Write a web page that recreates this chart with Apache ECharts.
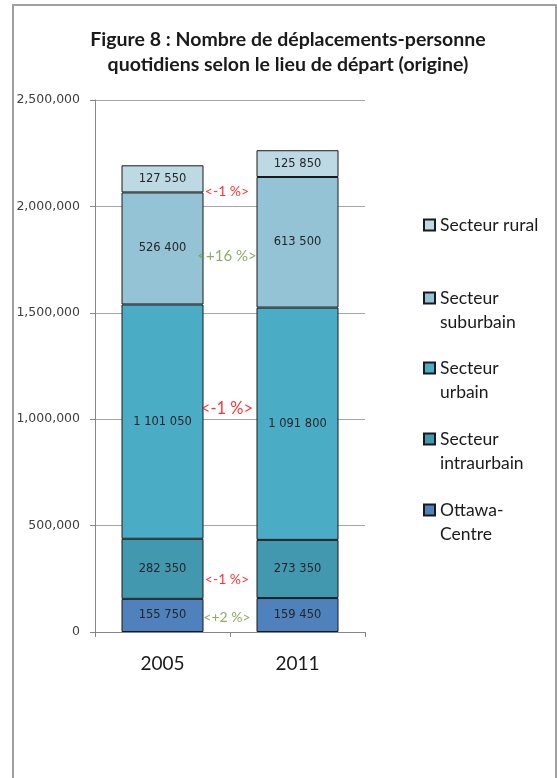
<!DOCTYPE html>
<html>
<head>
<meta charset="utf-8">
<script src="https://cdn.jsdelivr.net/npm/echarts@6/dist/echarts.min.js"></script>
<style>
  html, body { margin: 0; padding: 0; background: #fff; }
  #chart { width: 557px; height: 778px; }
</style>
</head>
<body>
<div id="chart"></div>
<script>
// Years on the category axis
const years = ['2005', '2011'];

// Series, stacked from the bottom up
const seriesNames = ['Ottawa-Centre', 'Secteur intraurbain', 'Secteur urbain', 'Secteur suburbain', 'Secteur rural'];
const ottawaCentre = [155750, 159450];
const intraurbain = [282350, 273350];
const urbain = [1101050, 1091800];
const suburbain = [526400, 613500];
const rural = [127550, 125850];

// Legend text, split over two lines where it wraps
const legendText = {
  'Secteur rural': ['Secteur rural'],
  'Secteur suburbain': ['Secteur', 'suburbain'],
  'Secteur urbain': ['Secteur', 'urbain'],
  'Secteur intraurbain': ['Secteur', 'intraurbain'],
  'Ottawa-Centre': ['Ottawa-', 'Centre']
};

// Change between the two years, written between the bars
const changeText = ['<-1 %>', '<+16 %>', '<-1 %>', '<-1 %>', '<+2 %>'];
const changeLevel = [2072000, 1767000, 1048000, 249000, 70000];
const changePositive = [false, true, false, false, true];

// Y axis ticks
const yMin = 0, yMax = 2500000, yStep = 500000;

const colors = ['#4F81BD', '#4298AE', '#4BACC6', '#93C3D5', '#BDD9E4'];
const values = [ottawaCentre, intraurbain, urbain, suburbain, rural];

const fmtSpace = v => String(v).replace(/\B(?=(\d{3})+(?!\d))/g, ' ');
const fmtComma = v => String(v).replace(/\B(?=(\d{3})+(?!\d))/g, ',');

const barSeries = seriesNames.map((name, i) => ({
  name: name,
  type: 'bar',
  stack: 'total',
  barWidth: 82,
  data: values[i],
  itemStyle: { color: colors[i], borderColor: '#1a1a1a', borderWidth: 1 },
  label: {
    show: true,
    position: 'inside',
    fontFamily: 'DejaVu Sans',
    fontSize: 11.5,
    color: '#262626',
    formatter: p => fmtSpace(p.value)
  },
  emphasis: { disabled: true }
}));

const changeSeries = {
  name: 'variation',
  type: 'scatter',
  xAxisIndex: 1,
  yAxisIndex: 0,
  symbolSize: 0,
  silent: true,
  data: changeLevel.map((lv, i) => ({
    value: [1, lv],
    label: {
      show: true,
      position: 'inside',
      offset: [-3, 0],
      formatter: changeText[i],
      fontFamily: 'Lato',
      fontSize: i === 2 ? 16.5 : (i === 1 ? 15 : 14),
      color: changePositive[i] ? '#77933C' : '#FF0000'
    }
  }))
};

// One legend block per series so each entry sits at its own height.
// Two-line entries get a blank leading line so the swatch lines up with the first line.
const legendCenters = { 'Secteur rural': 225, 'Secteur suburbain': 298, 'Secteur urbain': 368, 'Secteur intraurbain': 439, 'Ottawa-Centre': 510 };
const legends = seriesNames.slice().reverse().map(name => {
  const lines = legendText[name];
  const twoLines = lines.length > 1;
  return {
    data: [name],
    orient: 'vertical',
    left: 423,
    top: twoLines ? legendCenters[name] - 36 : legendCenters[name] - 12,
    padding: 0,
    itemWidth: 11,
    itemHeight: 11,
    itemGap: 0,
    icon: 'rect',
    selectedMode: false,
    formatter: n => (legendText[n].length > 1 ? ' \n' : '') + legendText[n].join('\n'),
    textStyle: {
      fontFamily: 'Lato',
      fontSize: 17.5,
      color: '#1a1a1a',
      lineHeight: 24
    }
  };
});

const chart = echarts.init(document.getElementById('chart'), null, { renderer: 'canvas' });
chart.setOption({
  animation: false,
  backgroundColor: '#ffffff',
  title: {
    text: 'Figure 8 : Nombre de déplacements-personne\nquotidiens selon le lieu de départ (origine)',
    left: 283,
    textAlign: 'center',
    top: 22,
    textStyle: { fontFamily: 'Lato', fontWeight: 'bold', fontSize: 19.5, lineHeight: 25, color: '#1a1a1a' }
  },
  legend: legends,
  grid: { left: 95, right: 192, top: 100, bottom: 146, containLabel: false },
  xAxis: [
    {
      type: 'category',
      data: years,
      axisLine: { lineStyle: { color: '#868686', width: 1 } },
      axisTick: { show: true, length: 5, lineStyle: { color: '#868686' } },
      axisLabel: { fontFamily: 'Lato', fontSize: 19, color: '#1a1a1a', margin: 22 }
    },
    { type: 'value', min: 0, max: 2, show: false }
  ],
  yAxis: {
    type: 'value',
    min: yMin,
    max: yMax,
    interval: yStep,
    axisLine: { show: true, lineStyle: { color: '#868686', width: 1 } },
    axisTick: { show: true, length: 5, lineStyle: { color: '#868686' } },
    splitLine: { lineStyle: { color: '#A6A6A6', width: 1 } },
    axisLabel: { fontFamily: 'DejaVu Sans', fontSize: 12.5, color: '#404040', margin: 15, formatter: v => fmtComma(v) }
  },
  series: barSeries.concat([changeSeries]),
  graphic: [
    { type: 'polyline', silent: true, shape: { points: [[13, 778], [13, 5], [556, 5], [556, 778]] },
      style: { stroke: '#A0A0A0', lineWidth: 2, fill: null } }
  ]
});
</script>
</body>
</html>
